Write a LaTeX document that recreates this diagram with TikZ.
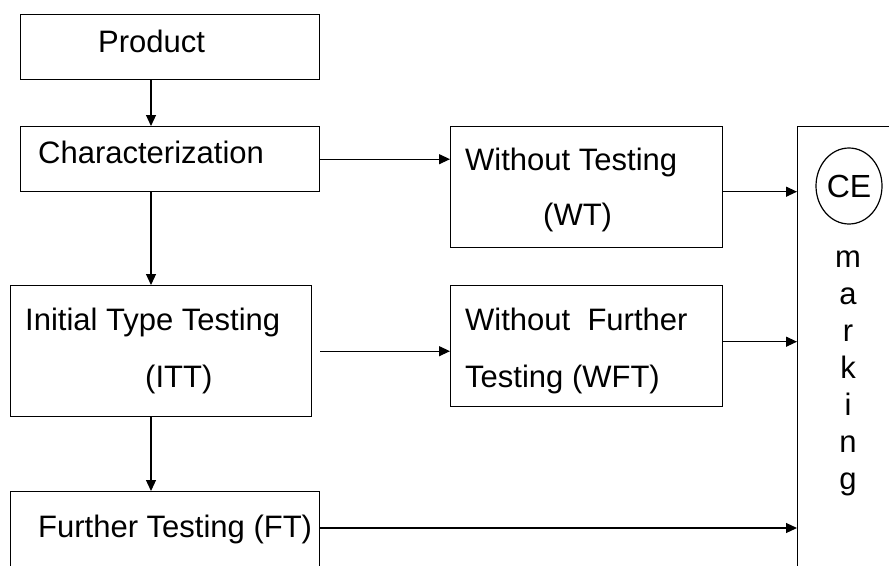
\documentclass[tikz,border=0pt]{standalone}
\usepackage{fontspec}
\setmainfont{Liberation Sans}
\usetikzlibrary{arrows.meta,shapes.geometric}
\begin{document}
\begin{tikzpicture}[x=1pt,y=-1pt,
  box/.style={draw,line width=1.4pt,rectangle,inner sep=0pt,anchor=north west},
  arr/.style={line width=1.2pt,-{Triangle[length=11pt,width=10pt]}},
  txt/.style={anchor=base west,inner sep=0pt,font=\fontsize{31}{37}\selectfont},
  letter/.style={anchor=base,inner sep=0pt,font=\fontsize{31}{37}\selectfont}]
\useasboundingbox (0,0) rectangle (889,565);

% boxes of the flow
\node[box,minimum width=299pt,minimum height=65pt] (prod) at (20,14) {};
\node[box,minimum width=299pt,minimum height=65pt] (char) at (20,126) {};
\node[box,minimum width=301pt,minimum height=131pt] (itt) at (10,285) {};
\node[box,minimum width=309pt,minimum height=110pt] (ft) at (10,491) {};
\node[box,minimum width=272pt,minimum height=121pt] (wt) at (450,126) {};
\node[box,minimum width=272pt,minimum height=121pt] (wft) at (450,285) {};
\node[box,minimum width=160pt,minimum height=520pt] (ce) at (797,126) {};
\node[draw,ellipse,line width=1.2pt,minimum width=66pt,minimum height=76pt,inner sep=0pt,
      font=\fontsize{32}{38}\selectfont] (mark) at (849,186) {CE};

% texts
\node[txt] (tprod) at (98,52) {Product};
\node[txt] (tchar) at (38,163) {Characterization};
\node[txt] (titt1) at (25,330) {Initial Type Testing};
\node[txt] (titt2) at (145,387) {(ITT)};
\node[txt] (tft) at (38,537) {Further Testing (FT)};
\node[txt] (twt1) at (465,170) {Without Testing};
\node[txt] (twt2) at (543,225) {(WT)};
\node[txt] (twft1) at (465,330) {Without\ \ Further};
\node[txt] (twft2) at (465,387) {Testing (WFT)};

% vertical word
\foreach \l/\yy [count=\i] in {m/267,a/304,r/341,k/378,i/415,n/452,g/489}
  \node[letter] (w\i) at (848,\yy) {\l};

% connectors
\coordinate (col) at (151,0);
\draw[arr] (prod.south -| col) -- (char.north -| col);
\draw[arr] (char.south -| col) -- (itt.north -| col);
\draw[arr] (itt.south -| col) -- (ft.north -| col);
\draw[arr] (char.east) -- (char.east -| wt.west);
\draw[arr] ([xshift=8pt]itt.east) -- (itt.east -| wft.west);
\draw[arr] ([yshift=-4.5pt]wt.east) -- ([yshift=-4.5pt]wt.east -| ce.west);
\draw[arr] ([yshift=4.5pt]wft.east) -- ([yshift=4.5pt]wft.east -| ce.west);
\draw[arr] ([yshift=-37pt]ft.north east) -- ([yshift=-37pt]ft.north east -| ce.west);
\end{tikzpicture}
\end{document}
